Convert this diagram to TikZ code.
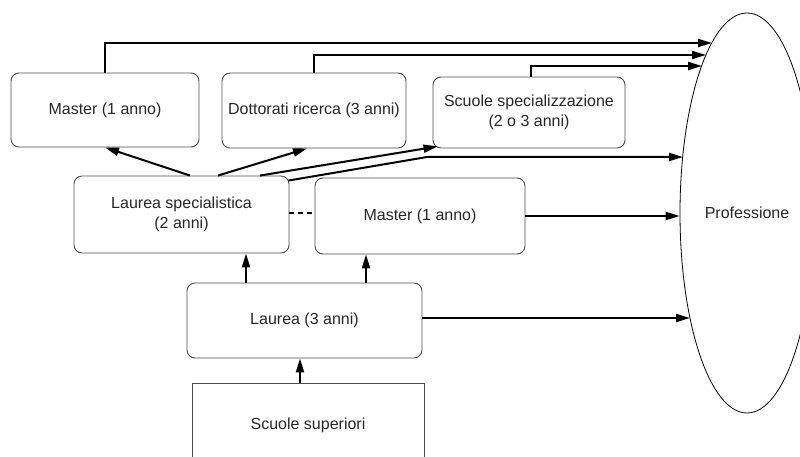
\documentclass[tikz,border=0pt]{standalone}
\usepackage{fontspec}
\setmainfont{Liberation Sans}
\usetikzlibrary{arrows.meta,shapes.geometric}
\begin{document}
\begin{tikzpicture}[x=1pt,y=-1pt,
  box/.style={draw=black!70,line width=0.9pt,rounded corners=8pt,inner sep=0pt,
    text=black!85,font=\fontsize{16}{20}\selectfont,align=center},
  sqbox/.style={draw=black!70,line width=0.9pt,inner sep=0pt,
    text=black!85,font=\fontsize{16}{20}\selectfont,align=center},
  conn/.style={line width=2pt,-{Triangle[length=14pt,width=8pt]}},
  link/.style={line width=2pt}]
\useasboundingbox (0,0) rectangle (800,457);
\begin{scope}
\clip (0,0) rectangle (800,457);
% nodes
\node[draw=black,line width=0.8pt,ellipse,minimum width=134pt,minimum height=400pt,inner sep=0pt,
  text=black!85,font=\fontsize{16}{20}\selectfont] (prof) at (747,213) {Professione};
\node[box,minimum width=188pt,minimum height=74pt] (m1) at (105,110) {Master (1 anno)};
\node[box,minimum width=184pt,minimum height=75pt] (dr) at (314,110.5) {Dottorati ricerca (3 anni)};
\node[box,minimum width=192pt,minimum height=71pt] (ss) at (529,112.5) {Scuole specializzazione\\(2 o 3 anni)};
\node[box,minimum width=215pt,minimum height=77pt] (ls) at (181.5,214.5) {Laurea specialistica\\(2 anni)};
\node[box,minimum width=210pt,minimum height=76pt] (mm) at (420,216) {Master (1 anno)};
\node[box,minimum width=235pt,minimum height=75pt] (la) at (304.5,320.5) {Laurea (3 anni)};
\node[sqbox,minimum width=232pt,minimum height=84pt] (su) at (308,425) {Scuole superiori};
% coordinates on the ellipse border
\coordinate (e1) at (712,43);
\coordinate (e2) at (706,55);
\coordinate (e3) at (702,66);
\coordinate (e4) at (683,157);
\coordinate (e6) at (690,318);
\coordinate (k7) at (427,157);
% connectors to Professione
\draw[conn] (m1.north) |- (e1);
\draw[conn] (dr.north) |- (e2);
\draw[conn] ([xshift=2pt]ss.north) |- (e3);
\draw[conn] ([xshift=-1pt,yshift=-5pt]ls.north east) -- (k7) -- (e4);
\draw[conn] (mm.east) -- (mm.east -| prof.west);
\draw[conn] ([yshift=2.5pt]la.east) -- (e6);
% from Laurea specialistica upward
\draw[conn] ([xshift=8.5pt]ls.north) -- (m1.south);
\draw[conn] ([xshift=36.5pt]ls.north) -- ([xshift=-7pt]dr.south);
\draw[conn] ([xshift=78.5pt]ls.north) -- ([xshift=5pt,yshift=2pt]ss.south west);
% from Laurea upward
\coordinate (p1) at ([xshift=-58.5pt]la.north);
\coordinate (p2) at ([xshift=61.5pt]la.north);
\draw[conn] (p1) -- (p1 |- ls.south);
\draw[conn] (p2) -- (p2 |- mm.south);
% from Scuole superiori
\coordinate (p3) at ([xshift=-8pt]su.north);
\draw[conn] (p3) -- (p3 |- la.south);
% dashed link
\draw[link,dashed,dash pattern=on 5pt off 4pt] ([yshift=1.5pt]ls.east) -- ([yshift=1.5pt]ls.east -| mm.west);
\end{scope}
\end{tikzpicture}
\end{document}
